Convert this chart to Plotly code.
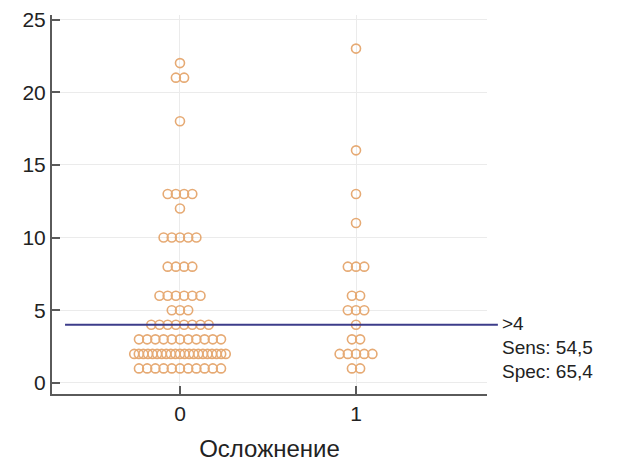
import plotly.graph_objects as go

# Data: value -> count per group
group0_values = [22, 21, 18, 13, 12, 10, 8, 6, 5, 4, 3, 2, 1]
group0_counts = [1, 2, 1, 4, 1, 5, 4, 6, 3, 8, 11, 21, 11]
group1_values = [23, 16, 13, 11, 8, 6, 5, 4, 3, 2, 1]
group1_counts = [1, 1, 1, 1, 3, 2, 3, 1, 2, 5, 2]
categories = [0, 1]
threshold = 4
annot_lines = [">4", "Sens: 54,5", "Spec: 65,4"]

STEP = 0.0466
MAXW = 0.52

def spread(cat, values, counts):
    xs, ys = [], []
    for v, n in zip(values, counts):
        step = STEP if n <= 1 else min(STEP, MAXW / (n - 1))
        for i in range(n):
            xs.append(cat + (i - (n - 1) / 2) * step)
            ys.append(v)
    return xs, ys

FONT = "Liberation Sans, Arial, sans-serif"

fig = go.Figure()
for cat, vals, cnts in [(categories[0], group0_values, group0_counts),
                        (categories[1], group1_values, group1_counts)]:
    xs, ys = spread(cat, vals, cnts)
    fig.add_trace(go.Scatter(
        x=xs, y=ys, mode="markers",
        marker=dict(symbol="circle-open", size=9, color="#E6AA74",
                    line=dict(width=1.6, color="#E6AA74")),
        showlegend=False, hoverinfo="y"))

fig.add_shape(type="line", xref="paper", yref="y", x0=0.03, x1=1.025,
              y0=threshold, y1=threshold,
              line=dict(color="#3C3C8A", width=2), layer="above")

for i, t in enumerate(annot_lines):
    fig.add_annotation(text=t, xref="paper", yref="y", x=1.03, y=threshold,
                       xanchor="left", yanchor="middle", yshift=1 - 24 * i,
                       showarrow=False,
                       font=dict(family=FONT, size=19, color="#222"))

axis_common = dict(showline=True, linecolor="#5a5a5a", linewidth=2,
                   ticks="inside", ticklen=8, tickwidth=1.5, tickcolor="#5a5a5a",
                   showgrid=True, gridcolor="#EBEBEB", gridwidth=1, zeroline=False,
                   automargin=False,
                   tickfont=dict(family=FONT, size=21, color="#222"))

fig.update_layout(
    width=630, height=466,
    margin=dict(l=52, r=143, t=15, b=72),
    plot_bgcolor="white", paper_bgcolor="white",
    xaxis=dict(range=[-0.727, 1.744], tickvals=categories, ticktext=["0", "1"],
               title=dict(text="Осложнение", standoff=16,
                          font=dict(family=FONT, size=24, color="#222")),
               **axis_common),
    yaxis=dict(range=[-0.76, 25.31], tickvals=[0, 5, 10, 15, 20, 25], **axis_common),
)
fig.write_html("out.html")
